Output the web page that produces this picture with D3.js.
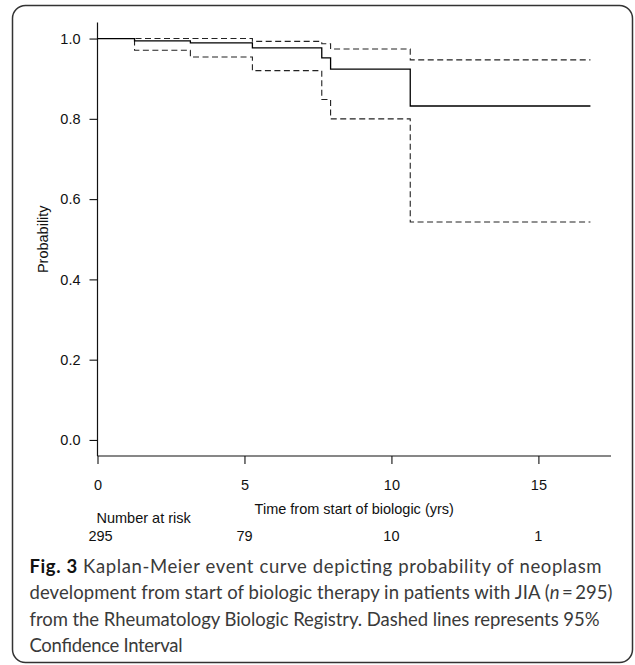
<!DOCTYPE html>
<html>
<head>
<meta charset="utf-8">
<script src="https://cdn.jsdelivr.net/npm/d3@7"></script>
<style>
  body { margin: 0; background: #fff; }
  svg { display: block; }
  .axis-text { font-family: "Liberation Sans", Arial, sans-serif; font-size: 14.5px; fill: #111; }
  .caption { font-family: Lato, "Open Sans", sans-serif; font-size: 18.5px; fill: #3a3a3a; }
</style>
</head>
<body>
<div id="chart"></div>
<script>
// Kaplan-Meier estimate (step times in years) and 95% CI
var times = [0, 1.26, 3.16, 5.27, 7.63, 7.93, 10.64, 16.77];
var surv  = [1, 0.994, 0.989, 0.977, 0.952, 0.924, 0.832, 0.832];
var upper = [1, 1, 1, 0.993, 0.987, 0.974, 0.947, 0.947];
var lower = [1, 0.971, 0.954, 0.920, 0.848, 0.800, 0.543, 0.543];

// number at risk table
var riskTimes = [0, 5, 10, 15];
var riskCounts = [295, 79, 10, 1];

var xTicks = [0, 5, 10, 15];
var yTicks = [0, 0.2, 0.4, 0.6, 0.8, 1.0];

var captionLines = [
  [{t: "Fig. 3", b: true}, {t: " Kaplan-Meier event curve depicting probability of neoplasm"}],
  [{t: "development from start of biologic therapy in patients with JIA ("}, {t: "n", i: true}, {t: "\u2009=\u2009295)"}],
  [{t: "from the Rheumatology Biologic Registry. Dashed lines represents 95%"}],
  [{t: "Confidence Interval"}]
];
var captionWidths = [572, 583, 570, 153];

var width = 635, height = 665;

var svg = d3.select("#chart")
  .append("svg")
  .attr("width", width)
  .attr("height", height);

// rounded frame round the figure
svg.append("rect")
  .attr("x", 12.5)
  .attr("y", 5.5)
  .attr("width", 620)
  .attr("height", 657)
  .attr("rx", 13)
  .attr("fill", "none")
  .attr("stroke", "#333")
  .attr("stroke-width", 1.5);

var xScale = d3.scaleLinear()
  .domain([0, 17.47])
  .range([97.5, 611]);

var yScale = d3.scaleLinear()
  .domain([-0.04, 1.04])
  .range([456, 22.5]);

// Y axis
var yAxis = d3.axisLeft(yScale)
  .tickValues(yTicks)
  .tickSize(8)
  .tickPadding(9)
  .tickFormat(d3.format(".1f"));

var yRender = svg.append("g")
  .attr("transform", `translate(${xScale(0)},0)`)
  .call(yAxis);

yRender.select(".domain")
  .attr("d", `M0,${yScale(1.04)}V${yScale(-0.04)}`)
  .attr("stroke", "#111")
  .attr("stroke-width", 1.2);

yRender.selectAll(".tick line").attr("stroke", "#111").attr("stroke-width", 1.1);
yRender.selectAll(".tick text")
  .attr("class", "axis-text")
  .attr("fill", null);
yRender.attr("font-family", null).attr("font-size", null);

// X axis
var xAxis = d3.axisBottom(xScale)
  .tickValues(xTicks)
  .tickSize(8)
  .tickPadding(16)
  .tickFormat(d3.format("d"));

var xRender = svg.append("g")
  .attr("transform", `translate(0,${yScale(-0.04)})`)
  .call(xAxis);

xRender.select(".domain")
  .attr("d", `M${xScale(0)},0H${xScale(17.47)}`)
  .attr("stroke", "#111")
  .attr("stroke-width", 1.2);

xRender.selectAll(".tick line").attr("stroke", "#111").attr("stroke-width", 1.1);
xRender.selectAll(".tick text")
  .attr("class", "axis-text")
  .attr("fill", null);
xRender.attr("font-family", null).attr("font-size", null);

// axis titles
svg.append("text")
  .attr("class", "axis-text")
  .attr("text-anchor", "middle")
  .attr("transform", `translate(48,${(yScale(1.04) + yScale(-0.04)) / 2}) rotate(-90)`)
  .text("Probability");

svg.append("text")
  .attr("class", "axis-text")
  .attr("text-anchor", "middle")
  .attr("x", (xScale(0) + xScale(17.47)) / 2)
  .attr("y", 514)
  .text("Time from start of biologic (yrs)");

// number at risk
svg.append("text")
  .attr("class", "axis-text")
  .attr("x", 96.5)
  .attr("y", 523)
  .text("Number at risk");

svg.selectAll(".risk")
  .data(riskTimes)
  .enter()
  .append("text")
  .attr("class", "axis-text risk")
  .attr("text-anchor", "middle")
  .attr("x", d => xScale(d) + (d === 0 ? 3 : 0))
  .attr("y", 541)
  .text((d, i) => riskCounts[i]);

// step curves
var points = s => times.map((t, i) => [t, s[i]]);

var step = d3.line()
  .x(d => xScale(d[0]))
  .y(d => yScale(d[1]))
  .curve(d3.curveStepAfter);

var linesG = svg.append("g").attr("class", "lines");

[upper, lower].forEach(s => {
  linesG.append("path")
    .attr("d", step(points(s)))
    .attr("fill", "none")
    .attr("stroke", "#222")
    .attr("stroke-width", 1.1)
    .attr("stroke-dasharray", "6,3.5");
});

linesG.append("path")
  .attr("d", step(points(surv)))
  .attr("fill", "none")
  .attr("stroke", "#000")
  .attr("stroke-width", 1.3);

// caption
captionLines.forEach((line, i) => {
  var txt = svg.append("text")
    .attr("class", "caption")
    .attr("x", 29.5)
    .attr("y", 573 + i * 26.4)
    .attr("textLength", captionWidths[i])
    .attr("lengthAdjust", "spacing");
  line.forEach(p => {
    txt.append("tspan")
      .style("font-weight", p.b ? "bold" : null)
      .style("font-style", p.i ? "italic" : null)
      .style("fill", p.b ? "#111" : null)
      .text(p.t);
  });
});
</script>
</body>
</html>
